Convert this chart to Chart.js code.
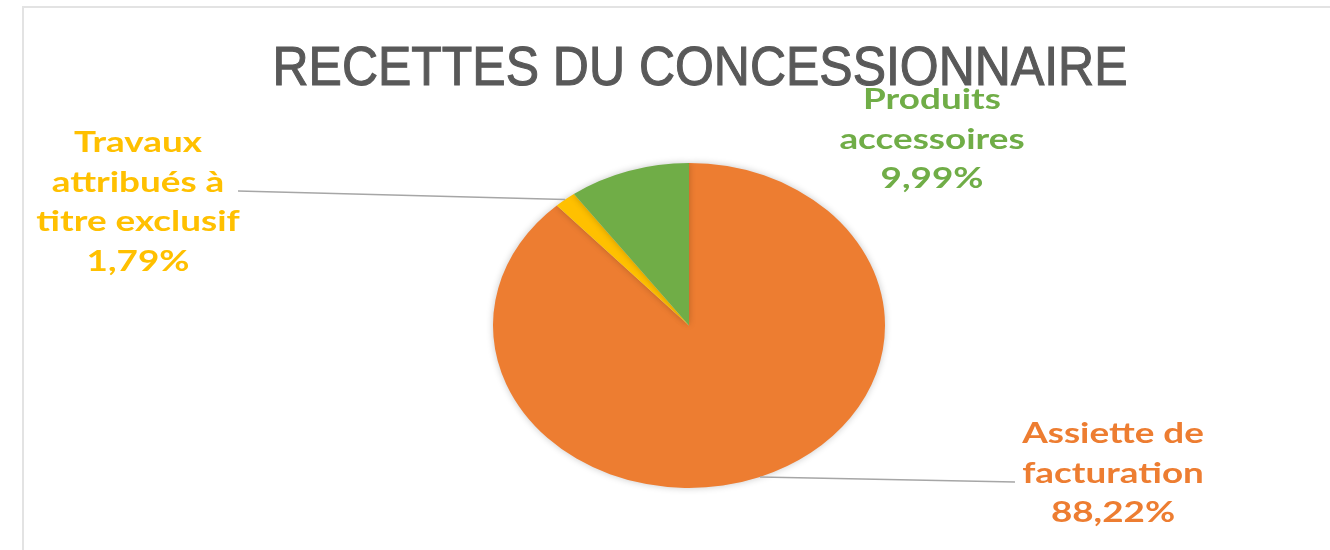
<!DOCTYPE html>
<html>
<head>
<meta charset="utf-8">
<script src="https://cdn.jsdelivr.net/npm/chart.js@4/dist/chart.umd.min.js"></script>
<style>
  html, body { margin: 0; padding: 0; background: #ffffff; }
  #wrap { position: relative; width: 1330px; height: 550px; }
  #frame { position: absolute; left: 22px; top: 6px; right: -10px; bottom: -10px;
           border-left: 2px solid #e3e3e3; border-top: 2px solid #e3e3e3; pointer-events: none; }
  canvas { position: absolute; left: 0; top: 0; }
</style>
</head>
<body>
<div id="wrap">
  <canvas id="c" width="1330" height="550"></canvas>
  <div id="frame"></div>
</div>
<script>
// ---- data ----
const chartTitle = "RECETTES DU CONCESSIONNAIRE";
const categories = ["Assiette de facturation", "Travaux attribués à titre exclusif", "Produits accessoires"];
const labelLines = [["Assiette de", "facturation"], ["Travaux", "attribués à", "titre exclusif"], ["Produits", "accessoires"]];
const shares = [88.22, 1.79, 9.99];
const sliceColors = ["#ED7D31", "#FFC000", "#70AD47"];

// ---- layout / style ----
const ELLIPSE_X = 196 / 162.5;   // horizontal stretch of the pie
const labelLayout = [
  { x: 1113, y: 434, leader: { x: 1015, y: 482 } },
  { x: 138,  y: 143, leader: { x: 238,  y: 191 } },
  { x: 932,  y: 100, leader: null }
];
const LINE_H = 39.5;
const LABEL_SX = 1.27;
const labelFont = "bold 29px Lato, 'Open Sans', sans-serif";
const titleFont = "55px 'Liberation Sans', Arial, sans-serif";
const TITLE_CX = 700, TITLE_BASE = 85, TITLE_W = 855;

const titlePlugin = {
  id: 'stretchedTitle',
  afterDraw(chart) {
    const ctx = chart.ctx;
    ctx.save();
    ctx.font = titleFont;
    const w = ctx.measureText(chartTitle).width;
    ctx.translate(TITLE_CX, TITLE_BASE);
    ctx.scale(TITLE_W / w, 1);
    ctx.textAlign = 'center';
    ctx.textBaseline = 'alphabetic';
    ctx.fillStyle = '#595959';
    ctx.strokeStyle = '#595959';
    ctx.lineWidth = 1.1;
    ctx.fillText(chartTitle, 0, 0);
    ctx.strokeText(chartTitle, 0, 0);
    ctx.restore();
  }
};

const ellipsePlugin = {
  id: 'ellipse',
  beforeDatasetsDraw(chart) {
    const arc = chart.getDatasetMeta(0).data[0];
    const ctx = chart.ctx;
    ctx.save();
    ctx.translate(arc.x, arc.y);
    ctx.scale(ELLIPSE_X, 1);
    ctx.translate(-arc.x, -arc.y);
    ctx.shadowColor = 'rgba(0,0,0,0.22)';
    ctx.shadowBlur = 7;
  },
  afterDatasetsDraw(chart) {
    chart.ctx.restore();
  }
};

const labelPlugin = {
  id: 'sliceLabels',
  afterDraw(chart) {
    const ctx = chart.ctx;
    const meta = chart.getDatasetMeta(0);
    meta.data.forEach((arc, i) => {
      const lay = labelLayout[i];
      const mid = (arc.startAngle + arc.endAngle) / 2;
      const px = arc.x + Math.cos(mid) * arc.outerRadius * ELLIPSE_X;
      const py = arc.y + Math.sin(mid) * arc.outerRadius;
      if (lay.leader) {
        ctx.save();
        ctx.strokeStyle = '#a6a6a6';
        ctx.lineWidth = 1.5;
        ctx.beginPath();
        ctx.moveTo(lay.leader.x, lay.leader.y);
        ctx.lineTo(px, py);
        ctx.stroke();
        ctx.restore();
      }
      const lines = labelLines[i].concat([shares[i].toFixed(2).replace('.', ',') + '%']);
      lines.forEach((t, k) => {
        ctx.save();
        ctx.font = labelFont;
        ctx.fillStyle = sliceColors[i];
        ctx.textAlign = 'center';
        ctx.textBaseline = 'middle';
        ctx.translate(lay.x, lay.y + k * LINE_H);
        ctx.scale(LABEL_SX, 1);
        ctx.fillText(t, 0, 0);
        ctx.restore();
      });
    });
  }
};

new Chart(document.getElementById('c'), {
  type: 'pie',
  data: {
    labels: categories,
    datasets: [{
      data: shares,
      backgroundColor: sliceColors,
      borderWidth: 0,
      clip: false
    }]
  },
  options: {
    responsive: false,
    animation: false,
    events: [],
    layout: { padding: { top: 163, left: 48, right: 0, bottom: 62 } },
    plugins: {
      legend: { display: false },
      tooltip: { enabled: false },
      title: { display: false }
    }
  },
  plugins: [ellipsePlugin, labelPlugin, titlePlugin]
});
</script>
</body>
</html>
